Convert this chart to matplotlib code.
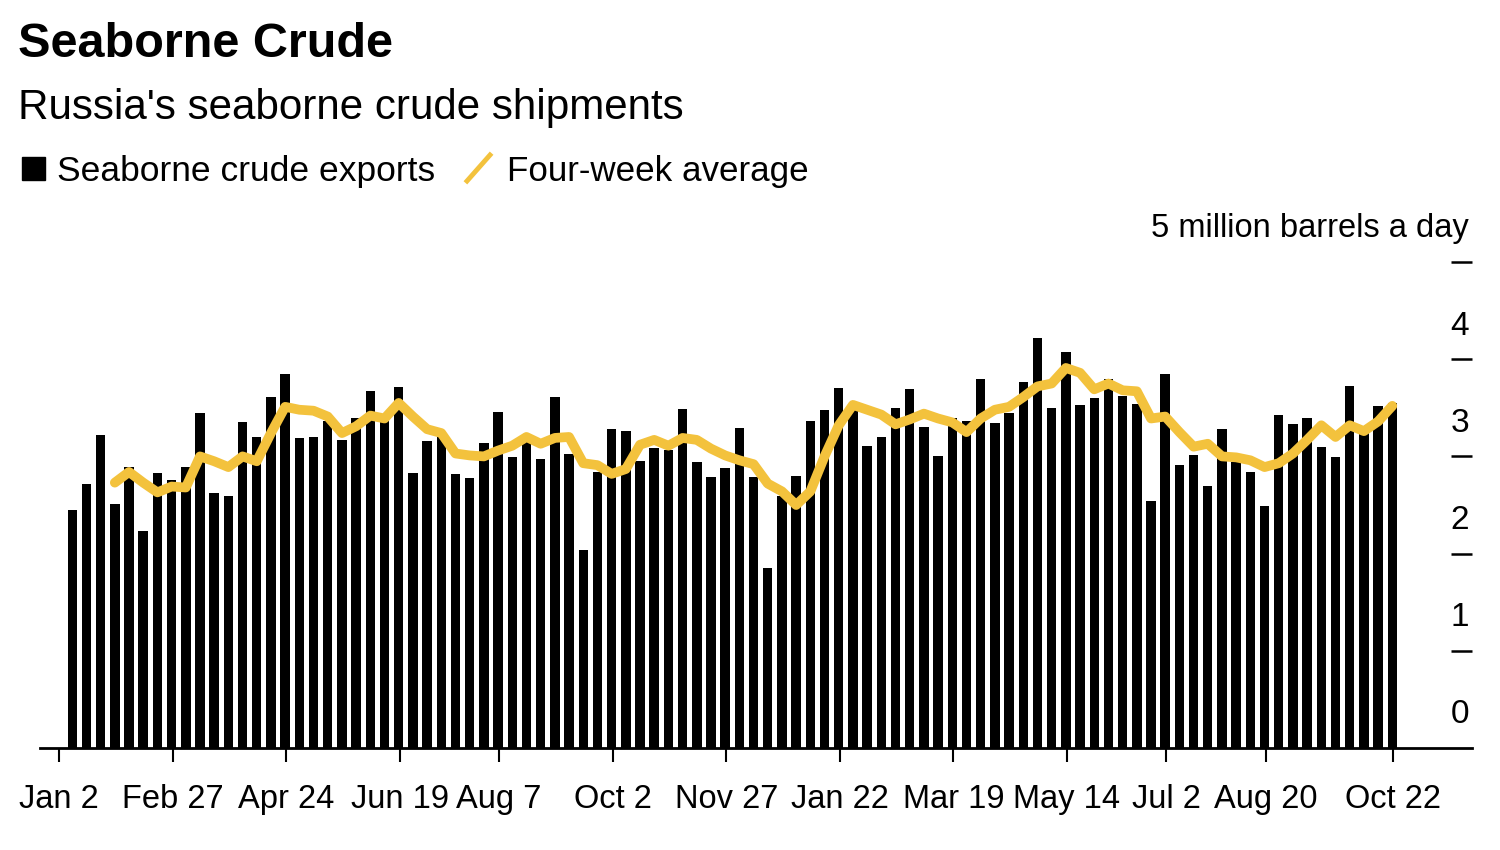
import matplotlib
matplotlib.use('Agg')
from matplotlib import pyplot as plt
from matplotlib.patches import Rectangle
from matplotlib.lines import Line2D
import matplotlib.dates as mdates
import pandas as pd

# Weekly seaborne crude exports, million barrels a day (week ending dates)
week_start = '2022-01-09'
exports = [2.45, 2.72, 3.22, 2.51, 2.89, 2.23, 2.83, 2.76, 2.89, 3.45,
           2.62, 2.59, 3.35, 3.20, 3.61, 3.85, 3.19, 3.20, 3.36, 3.17,
           3.40, 3.67, 3.36, 3.71, 2.83, 3.16, 3.22, 2.82, 2.78, 3.14,
           3.46, 2.99, 3.15, 2.97, 3.61, 3.02, 2.04, 2.84, 3.28, 3.26,
           2.95, 3.09, 3.07, 3.49, 2.94, 2.79, 2.88, 3.29, 2.79, 1.85,
           2.59, 2.80, 3.36, 3.48, 3.70, 3.52, 3.11, 3.20, 3.50, 3.69,
           3.30, 3.00, 3.39, 3.36, 3.80, 3.34, 3.45, 3.77, 4.22, 3.50,
           4.07, 3.53, 3.60, 3.80, 3.62, 3.54, 2.54, 3.85, 2.91, 3.01,
           2.70, 3.28, 2.94, 2.84, 2.49, 3.43, 3.33, 3.40, 3.10, 2.99,
           3.72, 3.28, 3.52, 3.55]

# Four-week average, starts at the fourth week
four_week = [2.73, 2.84, 2.73, 2.63, 2.69, 2.68, 3.00, 2.95, 2.89, 3.00,
             2.95, 3.24, 3.51, 3.48, 3.47, 3.41, 3.24, 3.31, 3.42, 3.39,
             3.55, 3.41, 3.28, 3.24, 3.03, 3.01, 3.00, 3.06, 3.11, 3.20,
             3.13, 3.19, 3.20, 2.93, 2.91, 2.82, 2.87, 3.12, 3.17, 3.11,
             3.19, 3.17, 3.08, 3.01, 2.96, 2.92, 2.72, 2.64, 2.50, 2.64,
             3.00, 3.32, 3.53, 3.48, 3.43, 3.33, 3.38, 3.44, 3.39, 3.35,
             3.25, 3.39, 3.48, 3.51, 3.61, 3.72, 3.75, 3.91, 3.86, 3.69,
             3.75, 3.68, 3.67, 3.39, 3.41, 3.25, 3.10, 3.13, 3.00, 2.99,
             2.96, 2.89, 2.93, 3.03, 3.17, 3.32, 3.20, 3.32, 3.26, 3.36,
             3.52]

tick_dates = ['2022-01-02', '2022-02-27', '2022-04-24', '2022-06-19', '2022-08-07',
              '2022-10-02', '2022-11-27', '2023-01-22', '2023-03-19', '2023-05-14',
              '2023-07-02', '2023-08-20', '2023-10-22']
tick_labels = ['Jan 2', 'Feb 27', 'Apr 24', 'Jun 19', 'Aug 7', 'Oct 2', 'Nov 27',
               'Jan 22', 'Mar 19', 'May 14', 'Jul 2', 'Aug 20', 'Oct 22']
y_labels = ['0', '1', '2', '3', '4']
unit_label = '5 million barrels a day'

yellow = '#F3C23D'
plt.rcParams['font.family'] = ['Liberation Sans', 'DejaVu Sans']

bar_dates = pd.date_range(week_start, periods=len(exports), freq='7D')
bar_x = mdates.date2num(bar_dates) - 0.5
line_x = bar_x[len(exports) - len(four_week):]

fig = plt.figure(figsize=(15, 8.5), dpi=100)
ax = fig.add_axes([40/1500, 1 - 748/850, (1472 - 40)/1500, (748 - 262)/850])

ax.bar(bar_x, exports, width=4.65, color='black', zorder=2)
ax.plot(line_x, four_week, color=yellow, lw=7, solid_capstyle='round',
        solid_joinstyle='round', zorder=3)

# axes limits
x0 = mdates.date2num(pd.Timestamp('2022-01-02') - pd.Timedelta(days=9.4))
x1 = mdates.date2num(pd.Timestamp('2023-10-22') + pd.Timedelta(days=38.8))
ax.set_xlim(x0, x1)
ax.set_ylim(0, 5)

for s in ['top', 'left', 'right']:
    ax.spines[s].set_visible(False)
ax.spines['bottom'].set_linewidth(2)
ax.spines['bottom'].set_zorder(4)

ax.set_xticks(mdates.date2num(pd.to_datetime(tick_dates)))
ax.set_xticklabels(tick_labels)
ax.tick_params(axis='x', direction='out', length=10, width=1.5, pad=16,
               labelsize=23.5, colors='black')

ax.yaxis.tick_right()
ax.set_yticks([1, 2, 3, 4, 5])
ax.tick_params(axis='y', direction='in', length=15, width=1.8, labelright=False)

trans = ax.get_yaxis_transform()
for i, lab in enumerate(y_labels):
    ax.text(0.998, i + 0.34, lab, transform=trans, ha='right', va='center',
            fontsize=24)
ax.text(0.998, 5 + 0.34, unit_label, transform=trans, ha='right', va='center',
        fontsize=23.5)

# title block
fig.text(18/1500, 1 - 57/850, 'Seaborne Crude', fontsize=35, fontweight='bold',
         va='baseline')
fig.text(18/1500, 1 - 119/850, "Russia's seaborne crude shipments", fontsize=30.3,
         va='baseline')

# legend
fig.patches.append(Rectangle((22/1500, 1 - 180/850), 23/1500, 23/850,
                             transform=fig.transFigure, color='black'))
fig.text(57/1500, 1 - 181/850, 'Seaborne crude exports', fontsize=25.5,
         va='baseline')
fig.lines.append(Line2D([467/1500, 490/1500], [1 - 181/850, 1 - 155/850],
                        transform=fig.transFigure, color=yellow, lw=3.5))
fig.text(507/1500, 1 - 181/850, 'Four-week average', fontsize=25.2,
         va='baseline')

fig.savefig('out.png', dpi=100)
